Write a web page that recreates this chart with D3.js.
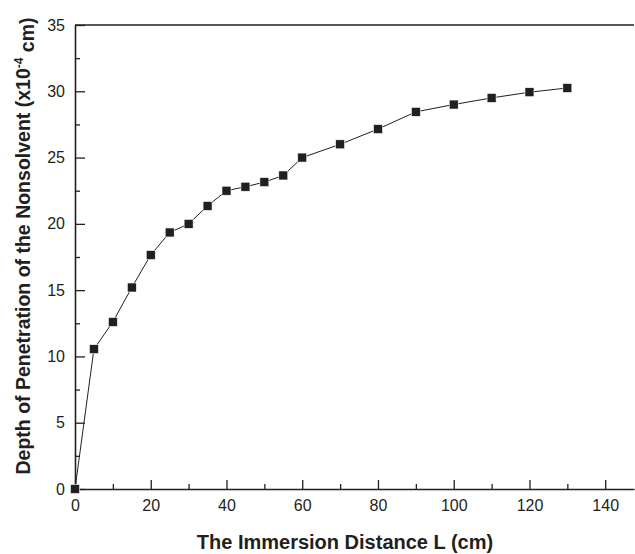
<!DOCTYPE html>
<html>
<head>
<meta charset="utf-8">
<script src="https://cdn.jsdelivr.net/npm/d3@7"></script>
<style>
  body { margin: 0; background: #fff; }
  svg text { font-family: "Liberation Sans", Arial, sans-serif; fill: #231f20; }
</style>
</head>
<body>
<div id="chart"></div>
<script>
// immersion distance L (cm)
const distances = [0, 5, 10, 15, 20, 25, 30, 35, 40, 45, 50, 55, 60, 70, 80, 90, 100, 110, 120, 130];
// depth of penetration (x10^-4 cm)
const depths = [0, 10.55, 12.6, 15.2, 17.65, 19.35, 20.0, 21.35, 22.5, 22.8, 23.15, 23.65, 25.0, 26.0, 27.15, 28.45, 29.0, 29.5, 29.93, 30.25];
const xTicks = [0, 20, 40, 60, 80, 100, 120, 140];
const yTicks = [0, 5, 10, 15, 20, 25, 30, 35];

const ink = "#231f20";
const W = 635, H = 554;
const margin = { top: 25, right: 1, bottom: 65, left: 75 };
const width = W - margin.left - margin.right;
const height = H - margin.top - margin.bottom;

const svg = d3.select("#chart").append("svg")
    .attr("width", W)
    .attr("height", H);

const g = svg.append("g")
    .attr("transform", "translate(" + margin.left + "," + margin.top + ")");

const x = d3.scaleLinear().domain([0, 147.6]).range([0, width]);
const y = d3.scaleLinear().domain([0, 35]).range([height, 0]);

// minor ticks first, majors drawn over them
const xMinor = d3.range(10, 141, 20);
const yMinor = d3.range(2.5, 35, 5);

g.append("g")
    .attr("transform", "translate(0," + height + ")")
    .call(d3.axisTop(x).tickValues(xMinor).tickSize(5).tickFormat(""))
    .call(a => a.select(".domain").remove());

g.append("g")
    .call(d3.axisRight(y).tickValues(yMinor).tickSize(5).tickFormat(""))
    .call(a => a.select(".domain").remove());

const xAxis = g.append("g")
    .attr("transform", "translate(0," + height + ")")
    .call(d3.axisBottom(x).tickValues(xTicks).tickSizeInner(0).tickSizeOuter(0).tickPadding(8));
xAxis.selectAll(".tick line").remove();
xAxis.selectAll(".tick").append("line").attr("y2", -9);

const yAxis = g.append("g")
    .call(d3.axisLeft(y).tickValues(yTicks).tickSizeInner(0).tickSizeOuter(0).tickPadding(10));
yAxis.selectAll(".tick line").remove();
yAxis.selectAll(".tick").append("line").attr("x2", 10);

g.selectAll(".domain").attr("stroke", ink).attr("stroke-width", 1.6);
g.selectAll(".tick line").attr("stroke", ink).attr("stroke-width", 1.3);
g.selectAll(".tick text").style("font-size", "16px").attr("fill", ink);
xAxis.selectAll(".tick text").attr("dy", "0.85em");

// top frame line
g.append("line")
    .attr("x1", 0).attr("x2", width)
    .attr("y1", 0).attr("y2", 0)
    .attr("stroke", ink).attr("stroke-width", 1.6);

const pts = distances.map((d, i) => ({ L: d, v: depths[i] }));

g.append("path")
    .datum(pts)
    .attr("fill", "none")
    .attr("stroke", ink)
    .attr("stroke-width", 1)
    .attr("d", d3.line().x(d => x(d.L)).y(d => y(d.v)));

const s = 9;
g.selectAll(".pt")
    .data(pts)
    .enter().append("rect")
    .attr("class", "pt")
    .attr("x", d => x(d.L) - s / 2)
    .attr("y", d => y(d.v) - s / 2)
    .attr("width", s)
    .attr("height", s)
    .attr("fill", ink)
    .attr("stroke", "#fff")
    .attr("stroke-width", 0.6);

// axis titles
svg.append("text")
    .attr("x", 345)
    .attr("y", 549)
    .attr("text-anchor", "middle")
    .style("font-size", "20px")
    .style("font-weight", "bold")
    .text("The Immersion Distance L (cm)");

const yt = svg.append("text")
    .attr("transform", "translate(30,246) rotate(-90)")
    .attr("text-anchor", "middle")
    .style("font-size", "19.5px")
    .style("font-weight", "bold");
yt.append("tspan").text("Depth of Penetration of the Nonsolvent (x10");
yt.append("tspan").attr("dy", "-0.55em").style("font-size", "12px").text("-4");
yt.append("tspan").attr("dy", "0.55em").text(" cm)");
</script>
</body>
</html>
